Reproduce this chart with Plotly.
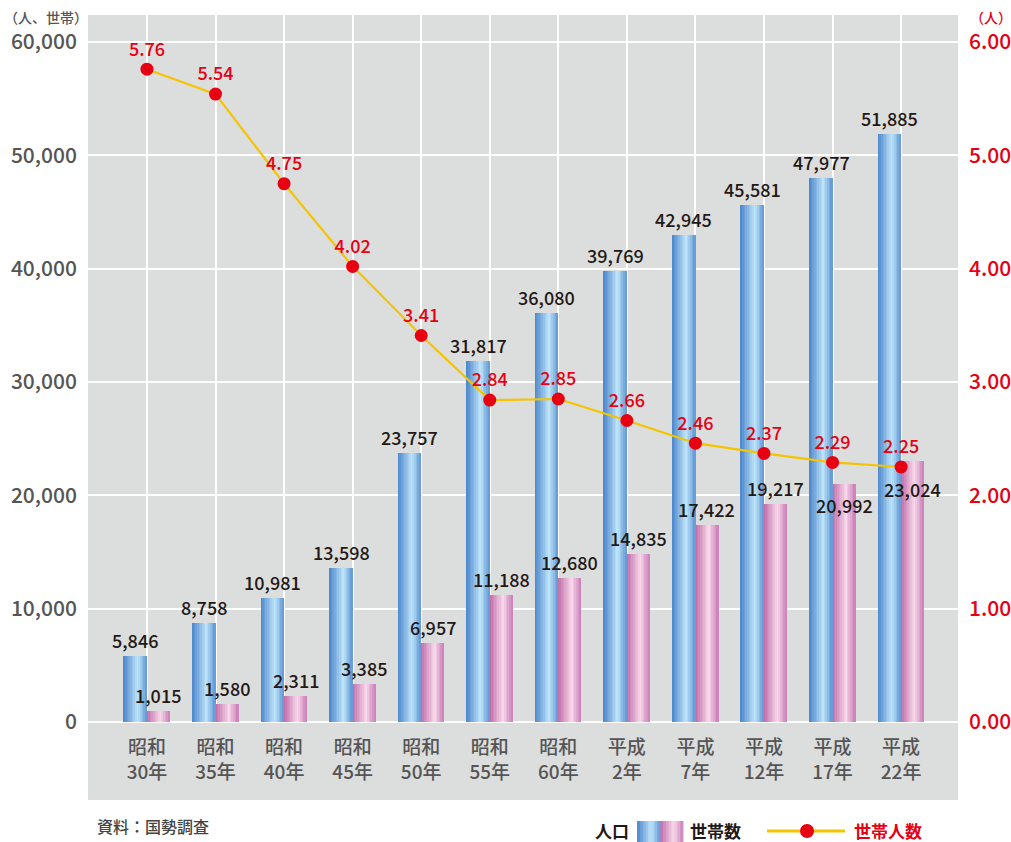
import plotly.graph_objects as go

# ---- data ----
categories = ["昭和<br>30年", "昭和<br>35年", "昭和<br>40年", "昭和<br>45年", "昭和<br>50年", "昭和<br>55年",
              "昭和<br>60年", "平成<br>2年", "平成<br>7年", "平成<br>12年", "平成<br>17年", "平成<br>22年"]
population = [5846, 8758, 10981, 13598, 23757, 31817, 36080, 39769, 42945, 45581, 47977, 51885]
households = [1015, 1580, 2311, 3385, 6957, 11188, 12680, 14835, 17422, 19217, 20992, 23024]
per_household = [5.76, 5.54, 4.75, 4.02, 3.41, 2.84, 2.85, 2.66, 2.46, 2.37, 2.29, 2.25]

FONT = "Noto Sans CJK JP"
GRAY_BG = "#dcdddd"
RED = "#e60012"
GOLD = "#f5c400"
TXT = "#231815"

idx = list(range(len(categories)))
W = 0.336
N = 14


def hex2rgb(h):
    h = h.lstrip("#")
    return tuple(int(h[i:i + 2], 16) for i in (0, 2, 4))


def grad(stops, t):
    for (t0, c0), (t1, c1) in zip(stops, stops[1:]):
        if t0 <= t <= t1:
            f = (t - t0) / (t1 - t0) if t1 > t0 else 0
            a, b = hex2rgb(c0), hex2rgb(c1)
            return "rgb(%d,%d,%d)" % tuple(round(a[k] + (b[k] - a[k]) * f) for k in range(3))
    return stops[-1][1]


blue_stops = [(0, "#4a84cb"), (0.62, "#bfe5fa"), (1, "#5f95d5")]
pink_stops = [(0, "#bf68a8"), (0.6, "#f8d9ea"), (1, "#c97db7")]

fig = go.Figure()

for i in range(N):
    t = (i + 0.5) / N
    fig.add_trace(go.Bar(x=idx, y=population, width=W / N * 1.08, offset=-W + i * W / N,
                         marker=dict(color=grad(blue_stops, t), line=dict(width=0)),
                         showlegend=False, hoverinfo="skip"))
    fig.add_trace(go.Bar(x=idx, y=households, width=W / N * 1.08, offset=i * W / N,
                         marker=dict(color=grad(pink_stops, t), line=dict(width=0)),
                         showlegend=False, hoverinfo="skip"))

# line
fig.add_trace(go.Scatter(x=idx, y=per_household, yaxis="y2", mode="lines+markers+text",
                         line=dict(color=GOLD, width=2.2),
                         marker=dict(color=RED, size=13),
                         text=[f"{v:.2f}" for v in per_household], textposition="top center",
                         textfont=dict(family=FONT, size=18, color=RED, weight=500),
                         showlegend=False, hoverinfo="skip", cliponaxis=False))

L, R, T, B = 88, 958, 15, 722
PW, PH = R - L, B - T


def px(X):
    return (X - L) / PW


def py(Y):
    return (B - Y) / PH


annotations = []
# bar value labels (anchored to the data values)
for i, v in zip(idx, population):
    annotations.append(dict(x=i - W / 2, y=v, text=f"{v:,}", xref="x", yref="y", showarrow=False,
                            yanchor="bottom", yshift=1,
                            font=dict(family=FONT, size=18, color=TXT, weight=500)))
hh_anchor = ["bottom"] * 10 + ["top", "top"]
hh_shift = [1] * 10 + [-6, -13]
for i, v, a, s in zip(idx, households, hh_anchor, hh_shift):
    annotations.append(dict(x=i + W / 2, y=v, text=f"{v:,}", xref="x", yref="y", showarrow=False,
                            yanchor=a, yshift=s,
                            font=dict(family=FONT, size=18, color=TXT, weight=500)))

shapes = [dict(type="rect", xref="paper", yref="paper", x0=0, x1=1, y0=py(800), y1=0,
               fillcolor=GRAY_BG, line=dict(width=0), layer="below")]

# legend swatches
NS = 8
for k in range(NS):
    t = (k + 0.5) / NS
    x0 = 637 + k * 23 / NS
    shapes.append(dict(type="rect", xref="paper", yref="paper", x0=px(x0), x1=px(x0 + 23 / NS + 0.4),
                       y0=py(842), y1=py(821), fillcolor=grad(blue_stops, t), line=dict(width=0)))
    x0 = 660 + k * 23 / NS
    shapes.append(dict(type="rect", xref="paper", yref="paper", x0=px(x0), x1=px(x0 + 23 / NS + 0.4),
                       y0=py(842), y1=py(821), fillcolor=grad(pink_stops, t), line=dict(width=0)))
shapes.append(dict(type="line", xref="paper", yref="paper", x0=px(767), x1=px(845), y0=py(831), y1=py(831),
                   line=dict(color=GOLD, width=3)))
shapes.append(dict(type="circle", xref="paper", yref="paper", x0=px(800), x1=px(814), y0=py(838), y1=py(824),
                   fillcolor=RED, line=dict(width=0)))

annotations += [
    dict(text="（人、世帯）", xref="paper", yref="paper", x=px(2), y=py(17), xanchor="left", yanchor="middle",
         showarrow=False, font=dict(family=FONT, size=14, color="#555555", weight=500)),
    dict(text="（人）", xref="paper", yref="paper", x=px(968), y=py(17), xanchor="left", yanchor="middle",
         showarrow=False, font=dict(family=FONT, size=14, color=RED, weight=500)),
    dict(text="資料：国勢調査", xref="paper", yref="paper", x=px(95), y=py(826), xanchor="left", yanchor="middle",
         showarrow=False, font=dict(family=FONT, size=16, color="#444444", weight=500)),
    dict(text="<b>人口</b>", xref="paper", yref="paper", x=px(631), y=py(830), xanchor="right", yanchor="middle",
         showarrow=False, font=dict(family=FONT, size=17, color=TXT)),
    dict(text="<b>世帯数</b>", xref="paper", yref="paper", x=px(688), y=py(830), xanchor="left", yanchor="middle",
         showarrow=False, font=dict(family=FONT, size=17, color=TXT)),
    dict(text="<b>世帯人数</b>", xref="paper", yref="paper", x=px(852), y=py(830), xanchor="left", yanchor="middle",
         showarrow=False, font=dict(family=FONT, size=17, color=RED)),
]

fig.update_layout(
    width=1011, height=842,
    margin=dict(l=L, r=1011 - R, t=T, b=842 - B, autoexpand=False),
    paper_bgcolor="white", plot_bgcolor=GRAY_BG,
    barmode="overlay", bargap=0,
    font=dict(family=FONT),
    xaxis=dict(range=[-0.86, 11.83], tickmode="array", tickvals=idx, ticktext=categories,
               showgrid=True, gridcolor="white", gridwidth=2, zeroline=False, showline=False,
               ticks="", ticklabelstandoff=12,
               tickfont=dict(family=FONT, size=19, color="#555555", weight=500)),
    yaxis=dict(range=[0, 62380], tickvals=[0, 10000, 20000, 30000, 40000, 50000, 60000],
               tickformat=",d", showgrid=True, gridcolor="white", gridwidth=2,
               zeroline=True, zerolinecolor="white", zerolinewidth=2, showline=False, ticks="",
               ticklabelstandoff=10,
               tickfont=dict(family=FONT, size=21, color="#555555", weight=500)),
    yaxis2=dict(range=[0, 6.238], overlaying="y", side="right", tickvals=[0, 1, 2, 3, 4, 5, 6],
                tickformat=".2f", showgrid=False, zeroline=False, showline=False, ticks="",
                ticklabelstandoff=10,
                tickfont=dict(family=FONT, size=21, color=RED, weight=500)),
    shapes=shapes, annotations=annotations,
)

fig.write_html("out.html", config={"displayModeBar": False},
               post_script="document.body.style.margin='0px';document.body.style.overflow='hidden';")
